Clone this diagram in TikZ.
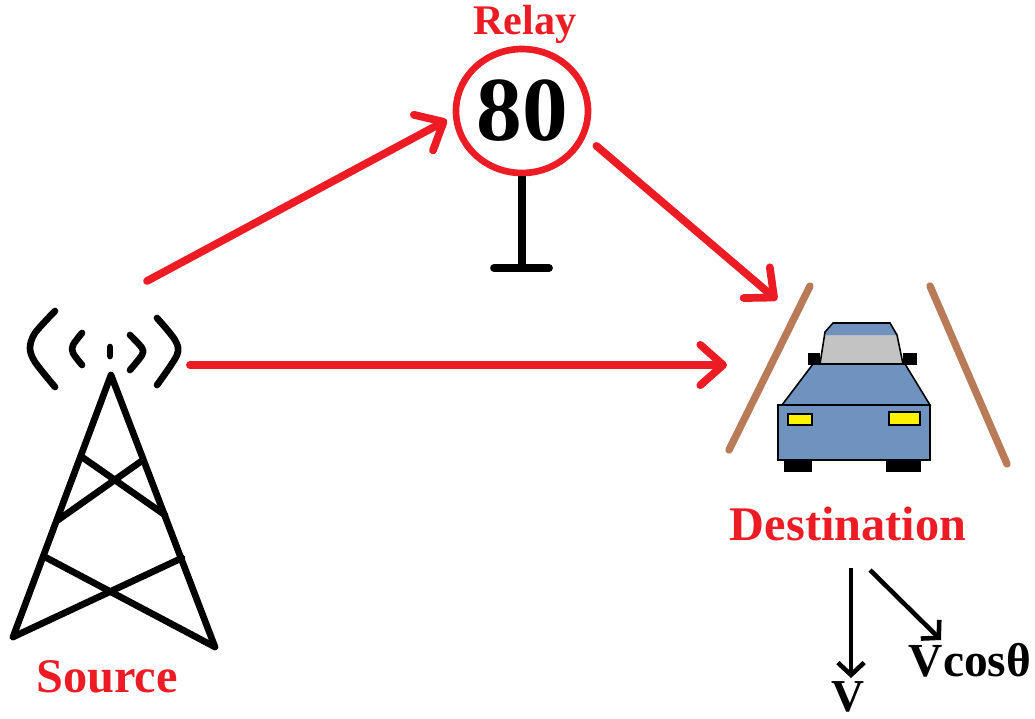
\documentclass[tikz,border=0pt]{standalone}
\usepackage{fontspec}
\setmainfont{Liberation Serif}
\usetikzlibrary{arrows.meta, shapes.geometric}
\definecolor{sigred}{HTML}{ED1C24}
\definecolor{roadbrown}{HTML}{B97A57}
\definecolor{carblue}{HTML}{7092BE}
\definecolor{glassgray}{HTML}{C3C3C3}
\definecolor{lampyellow}{HTML}{FFF200}
\begin{document}
\begin{tikzpicture}[x=0.02cm, y=-0.02cm,
    label/.style={text=sigred, font=\bfseries\fontsize{27.5}{30}\selectfont, inner sep=0},
    value/.style={text=black, font=\bfseries\fontsize{27}{30}\selectfont, inner sep=0},
    sign/.style={draw=sigred, ellipse, line width=3.8pt, minimum width=2.64cm, minimum height=2.48cm, inner sep=0, font=\bfseries\fontsize{52}{56}\selectfont},
    link/.style={draw=sigred, line width=4.4pt, line cap=round, -{Straight Barb[length=13pt, width=23pt, round]}},
    speed/.style={line width=2.6pt, -{Straight Barb[length=7pt, width=15pt]}},
    mast/.style={line width=3.8pt, line cap=round, line join=round},
    road/.style={draw=roadbrown, line width=4.2pt, line cap=round},
    shell/.style={draw=black, line width=0.9pt, fill=carblue},
    lamp/.style={draw=black, line width=0.9pt, fill=lampyellow}]
    \useasboundingbox (0, 0) rectangle (1035, 718);

    \node[sign] (relay) at (522, 111) {80};
    \node[label, font=\bfseries\fontsize{24}{26}\selectfont] (relaylabel) at (525, 24) {Relay};
    \node[label] (source) at (107, 677) {Source};
    \node[label] (destination) at (848, 524) {Destination};
    \node[value, font=\bfseries\fontsize{26}{28}\selectfont] (v) at (848, 697) {V};
    \node[value] (vcos) at (970, 660) {Vcosθ};

    \coordinate (foot) at (522, 268);
    \coordinate (srcup) at (147, 281);
    \coordinate (relayin) at (447, 120);
    \coordinate (srcright) at (190, 365);
    \coordinate (carleft) at (727, 365);
    \coordinate (cartop) at (777, 300);
    \coordinate (speedv) at (851, 568);
    \coordinate (speedvend) at (851, 678);
    \coordinate (speedc) at (870, 570);
    \coordinate (speedcend) at (941, 640);

    % sign post
    \draw[line width=4.4pt] (relay.south) -- (foot);
    \draw[line width=4.4pt, line cap=round] (494, 268) -- (549, 268);

    % tower
    \draw[mast] (13, 637) -- (111, 375) -- (215, 647);
    \draw[mast] (82, 457) -- (165, 515);
    \draw[mast] (143, 460) -- (58, 520);
    \draw[mast] (45, 557) -- (215, 647);
    \draw[mast] (182, 558) -- (13, 637);
    \draw[mast] plot[smooth] coordinates {(55, 311) (35, 333) (30, 348) (35, 362) (55, 387)};
    \draw[mast] plot[smooth] coordinates {(82, 333) (73, 345) (73, 353) (82, 365)};
    \draw[mast] (110, 347) -- (110, 356);
    \draw[mast] plot[smooth] coordinates {(130, 335) (142, 348) (142, 355) (130, 370)};
    \draw[mast] plot[smooth] coordinates {(157, 318) (175, 340) (177, 355) (157, 385)};

    % road
    \draw[road] (810, 286) -- (729, 450);
    \draw[road] (930, 286) -- (1007, 464);

    % car
    \fill (784, 458) rectangle (812, 472);
    \fill (886, 458) rectangle (921, 472);
    \fill (808, 353) rectangle (820, 365);
    \fill (903, 353) rectangle (917, 365);
    \fill[glassgray] (825, 335) -- (820, 364) -- (903, 364) -- (897, 335) -- cycle;
    \fill[carblue] (825, 335) -- (825, 332) -- (833, 323) -- (890, 323) -- (897, 335) -- cycle;
    \draw[line width=0.9pt] (820, 364) -- (825, 332) -- (833, 323) -- (890, 323) -- (897, 335) -- (903, 364);
    \draw[shell] (782, 405) -- (813, 364) -- (905, 364) -- (930, 405) -- cycle;
    \draw[shell] (778, 405) rectangle (930, 460);
    \draw[lamp] (788, 414) rectangle (812, 425);
    \draw[lamp] (889, 412) rectangle (920, 425);

    % links
    \draw[link] (srcup) -- (relayin);
    \draw[link] (srcright) -- (carleft);
    \draw[link, shorten <=8pt] (relay.-22) -- (cartop);

    % speed components
    \draw[speed] (speedv) -- (speedvend);
    \draw[speed] (speedc) -- (speedcend);
\end{tikzpicture}
\end{document}
